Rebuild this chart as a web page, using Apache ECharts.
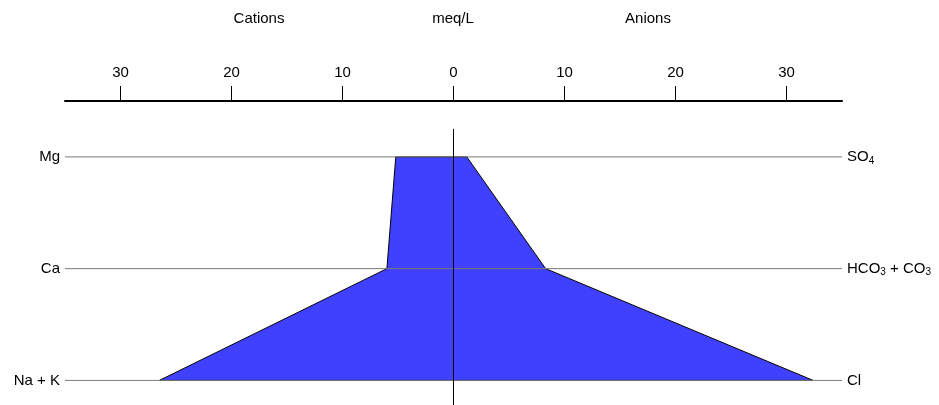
<!DOCTYPE html>
<html>
<head>
<meta charset="utf-8">
<script src="https://cdn.jsdelivr.net/npm/echarts@6/dist/echarts.min.js"></script>
<style>html,body{margin:0;padding:0;background:#fff;}#c{width:939px;height:405px;}</style>
</head>
<body>
<div id="c"></div>
<script>
// Stiff diagram data (meq/L)
const cationNames = ['Mg', 'Ca', 'Na + K'];
const anionNames = ['SO4', 'HCO3 + CO3', 'Cl'];
const cationValues = [5.2, 6.0, 26.5];
const anionValues = [1.2, 8.3, 32.4];
const xTickValues = [-30, -20, -10, 0, 10, 20, 30];
const rowIndex = [0, 1, 2];
const headerTexts = ['Cations', 'meq/L', 'Anions'];

const FONT = '"Liberation Sans", Arial, sans-serif';
const FS = 15;

// polygon: cations on the left (negative), anions on the right
const polygon = [];
for (let i = 0; i < rowIndex.length; i++) polygon.push([anionValues[i], rowIndex[i]]);
for (let i = rowIndex.length - 1; i >= 0; i--) polygon.push([-cationValues[i], rowIndex[i]]);

const chart = echarts.init(document.getElementById('c'), null, {renderer: 'canvas'});

const anionRich = {
  n: {fontSize: FS, fontFamily: FONT, color: '#000'},
  s: {fontSize: 10, fontFamily: FONT, color: '#000', padding: [8, 0, 0, 0]}
};
function anionFmt(v) {
  const name = anionNames[Math.round(v)];
  if (name === undefined) return '';
  return '{n|' + name.replace(/(\d)/g, '}{s|$1}{n|') + '}';
}

const headerX = [259, 453, 648];
const Y_MIN = -0.5, Y_MAX = 2.22;

chart.setOption({
  animation: false,
  backgroundColor: '#fff',
  grid: {left: 65, right: 97, top: 101, bottom: 0, containLabel: false},
  graphic: headerTexts.map((t, i) => ({
    type: 'text', x: headerX[i], y: 19,
    style: {text: t, fontSize: FS, fontFamily: FONT, fill: '#000', align: 'center', verticalAlign: 'middle'}
  })),
  xAxis: {
    type: 'value', position: 'top', min: -35, max: 35,
    axisLine: {show: true, onZero: false, lineStyle: {color: '#000', width: 2}},
    axisTick: {show: true, inside: false, length: 15, customValues: xTickValues, lineStyle: {color: '#000', width: 1}},
    axisLabel: {show: true, customValues: xTickValues, margin: 21, fontSize: FS, fontFamily: FONT, color: '#000',
      formatter: v => String(Math.abs(v))},
    splitLine: {show: false}
  },
  yAxis: [
    {
      type: 'value', inverse: true, min: Y_MIN, max: Y_MAX, position: 'left',
      axisLine: {show: false}, axisTick: {show: false}, splitLine: {show: false},
      axisLabel: {show: true, customValues: rowIndex, margin: 5, fontSize: FS, fontFamily: FONT, color: '#000',
        formatter: v => cationNames[Math.round(v)] || ''}
    },
    {
      type: 'value', inverse: true, min: Y_MIN, max: Y_MAX, position: 'right',
      axisLine: {show: false}, axisTick: {show: false}, splitLine: {show: false},
      axisLabel: {show: true, customValues: rowIndex, margin: 5, align: 'left', formatter: anionFmt, rich: anionRich}
    }
  ],
  series: [
    {
      type: 'custom', z: 2,
      data: [0],
      renderItem: function (params, api) {
        const pts = polygon.map(p => api.coord(p));
        return {type: 'polygon', shape: {points: pts},
          style: {fill: '#4040ff', stroke: '#000', lineWidth: 1}};
      }
    },
    // horizontal reference lines
    ...rowIndex.map(r => ({
      type: 'line', z: 3, symbol: 'none', silent: true,
      data: [[-35, r], [35, r]],
      lineStyle: {color: '#7a7a7a', width: 1}
    })),
    // vertical zero line
    {
      type: 'line', z: 4, symbol: 'none', silent: true,
      data: [[0, -0.25], [0, Y_MAX]],
      lineStyle: {color: '#000', width: 1}
    }
  ]
});
</script>
</body>
</html>
